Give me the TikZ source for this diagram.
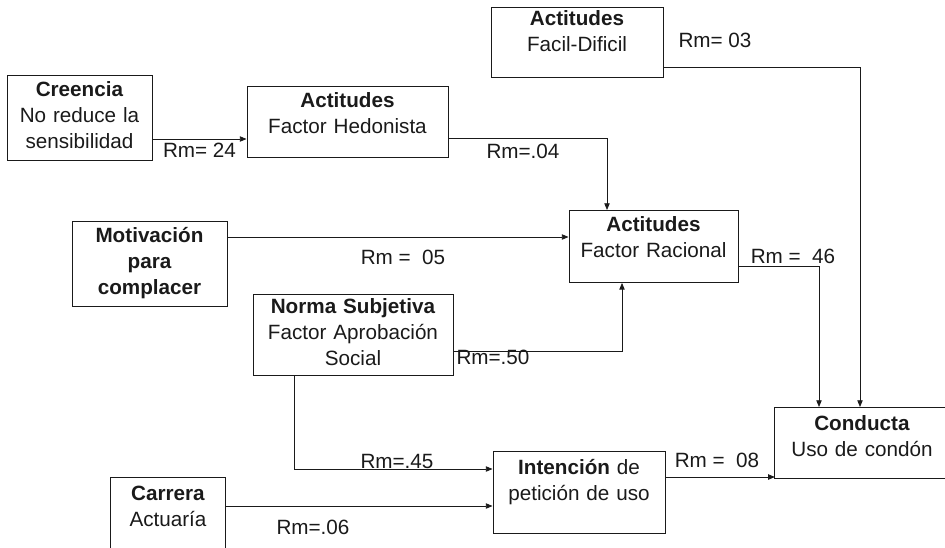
\documentclass[tikz,border=0pt]{standalone}
\usepackage{fontspec}
\setmainfont{Liberation Sans}
\usetikzlibrary{arrows.meta}
\definecolor{dgInk}{HTML}{1A1A1A}

\begin{document}
\begin{tikzpicture}[
    x=0.75pt, y=-0.75pt,
    box/.style={draw=dgInk, line width=0.7pt, anchor=north, inner sep=0pt, align=center,
                text height=16pt, font=\fontsize{15.5}{19.5}\selectfont, text=dgInk},
    openbox/.style={box, draw=none},
    fw/.style={-{Triangle[length=5pt, width=4pt]}, line width=0.6pt, draw=dgInk},
    rm/.style={inner sep=0pt, font=\fontsize{15.5}{19.5}\selectfont, text=dgInk},
  ]
  % pixel grid of the 945 x 547 scan, y runs downwards
  \useasboundingbox (0,0) rectangle (945,547);
  \clip (0,0) rectangle (945,547);

  % boxes, placed by their top centre
  \node[box, text width=108.75pt, text depth=47.75pt] (crenc) at (79.5,75)  {\textbf{Creencia}\\No reduce la\\sensibilidad};
  \node[box, text width=150.75pt, text depth=37.25pt] (hedon) at (347.5,86) {\textbf{Actitudes}\\Factor Hedonista};
  \node[box, text width=129pt, text height=13.5pt, text depth=39pt] (facil) at (577,7) {\textbf{Actitudes}\\Facil-Dificil};
  \node[box, text width=126.75pt, text depth=38pt] (racio) at (653.5,210) {\textbf{Actitudes}\\Factor Racional};
  \node[box, text width=116.25pt, text depth=47.75pt] (motiv) at (149.5,221) {\bfseries Motivación\\para\\complacer};
  \node[box, text width=150pt, text height=14.5pt, text depth=46.25pt] (norma) at (353,294) {\textbf{Norma Subjetiva}\\Factor Aprobación\\Social};
  \node[box, text width=129pt, text height=17pt, text depth=44.5pt] (inten) at (579,451) {\textbf{Intención} de\\petición de uso};
  % these two run off the edge of the scan
  \node[openbox, text width=130pt, text height=17.5pt, text depth=35.75pt] (condu) at (862,407) {\textbf{Conducta}\\Uso de condón};
  \node[openbox, text width=85.5pt, text height=17pt, text depth=49pt] (carre) at (168,477) {\textbf{Carrera}\\Actuaría};
  \draw[dgInk, line width=0.7pt] (condu.north east) -- (condu.north west) -- (condu.south west) -- (condu.south east);
  \draw[dgInk, line width=0.7pt] (carre.south west) -- (carre.north west) -- (carre.north east) -- (carre.south east);

  % paths
  \draw[fw] (crenc.east |- 0,139) -- (hedon.west |- 0,139);
  \draw[fw] (hedon.east |- 0,138) -| (607,0 |- racio.north);
  \draw[fw] (facil.east |- 0,67) -| (860,0 |- condu.north);
  \draw[fw] (motiv.east |- 0,237) -- (racio.west |- 0,237);
  \draw[fw] (racio.east |- 0,266) -| (819,0 |- condu.north);
  \draw[fw] (norma.east |- 0,351) -| (622,0 |- racio.south);
  \draw[fw] (294,0 |- norma.south) |- (inten.west |- 0,469);
  \draw[fw] (carre.east |- 0,506) -- (inten.west |- 0,506);
  \draw[fw] (inten.east |- 0,477) -- (condu.west |- 0,477);

  % coefficients
  \node[rm] (r24) at (199.5,150) {Rm= 24};
  \node[rm] (r04) at (523,151)   {Rm=.04};
  \node[rm] (r03) at (715,40)    {Rm= 03};
  \node[rm] (r05) at (403,257)   {Rm = \ 05};
  \node[rm] (r46) at (793,256)   {Rm = \ 46};
  \node[rm] (r50) at (493,357)   {Rm=.50};
  \node[rm] (r45) at (397,461)   {Rm=.45};
  \node[rm] (r06) at (313,527)   {Rm=.06};
  \node[rm] (r08) at (717,460)   {Rm = \ 08};
\end{tikzpicture}
\end{document}
